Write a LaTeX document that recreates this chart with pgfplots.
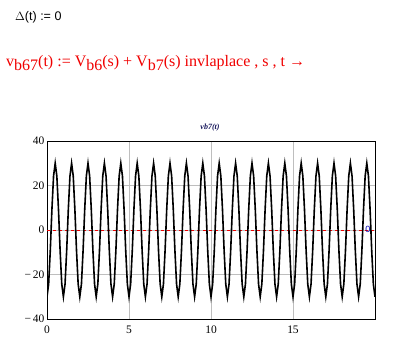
\documentclass[border=0pt]{standalone}
\usepackage{pgfplots}
\pgfplotsset{compat=1.18}
\usepackage{fontspec}
\setmainfont{Liberation Sans}
\newfontfamily\serif{Liberation Serif}
\definecolor{mcred}{RGB}{240,0,0}
\definecolor{gridgray}{RGB}{190,190,190}
\definecolor{navy}{RGB}{20,20,90}
\begin{document}
\begin{tikzpicture}
\path[use as bounding box] (0pt,0pt) rectangle (400pt,-360pt);
\node[anchor=base west,inner sep=0pt,font=\fontsize{12.5}{14}\selectfont] at (15pt,-20.7pt) {$\Delta$(t) := 0};
\node[anchor=base west,inner sep=0pt,text=mcred,font=\serif\fontsize{16}{18}\selectfont] at (6pt,-66.5pt)
 {v\raisebox{-3.5pt}{b67}(t) := V\raisebox{-3.5pt}{b6}(s) + V\raisebox{-3.5pt}{b7}(s) invlaplace , s , t →};
\node[inner sep=0pt,text=navy,font=\serif\fontsize{8}{9}\selectfont\bfseries\itshape] at (210pt,-127.5pt) {vb7(t)};
\begin{axis}[
  at={(47pt,-319pt)}, anchor=south west,
  width=328pt, height=178pt, scale only axis,
  xmin=0, xmax=20, ymin=-40, ymax=40,
  xtick={0,5,10,15}, ytick={-40,-20,0,20,40},
  yticklabels={−\,40,−\,20,0,20,40},
  tick style={draw=none},
  axis line style={black, line width=0.8pt},
  grid=major, grid style={gridgray, line width=0.5pt},
  ticklabel style={font=\serif\fontsize{11.5}{13}\selectfont},
  /pgf/number format/assume math mode=true,
  xticklabel style={yshift=-3pt},
  yticklabel style={xshift=1pt},
  clip=true,
]
\addplot[mcred, dashed, line width=0.8pt, forget plot] coordinates {(0,0)(20,0)};
\addplot[black, line width=1.6pt, line join=miter, mark=none] coordinates {
(0,-30)(0.1,-24.27)(0.2,-9.27)(0.3,9.27)(0.4,24.27)(0.5,30)(0.6,24.27)(0.7,9.27)(0.8,-9.27)(0.9,-24.27)
(1,-30)(1.1,-24.27)(1.2,-9.27)(1.3,9.27)(1.4,24.27)(1.5,30)(1.6,24.27)(1.7,9.27)(1.8,-9.27)(1.9,-24.27)
(2,-30)(2.1,-24.27)(2.2,-9.27)(2.3,9.27)(2.4,24.27)(2.5,30)(2.6,24.27)(2.7,9.27)(2.8,-9.27)(2.9,-24.27)
(3,-30)(3.1,-24.27)(3.2,-9.27)(3.3,9.27)(3.4,24.27)(3.5,30)(3.6,24.27)(3.7,9.27)(3.8,-9.27)(3.9,-24.27)
(4,-30)(4.1,-24.27)(4.2,-9.27)(4.3,9.27)(4.4,24.27)(4.5,30)(4.6,24.27)(4.7,9.27)(4.8,-9.27)(4.9,-24.27)
(5,-30)(5.1,-24.27)(5.2,-9.27)(5.3,9.27)(5.4,24.27)(5.5,30)(5.6,24.27)(5.7,9.27)(5.8,-9.27)(5.9,-24.27)
(6,-30)(6.1,-24.27)(6.2,-9.27)(6.3,9.27)(6.4,24.27)(6.5,30)(6.6,24.27)(6.7,9.27)(6.8,-9.27)(6.9,-24.27)
(7,-30)(7.1,-24.27)(7.2,-9.27)(7.3,9.27)(7.4,24.27)(7.5,30)(7.6,24.27)(7.7,9.27)(7.8,-9.27)(7.9,-24.27)
(8,-30)(8.1,-24.27)(8.2,-9.27)(8.3,9.27)(8.4,24.27)(8.5,30)(8.6,24.27)(8.7,9.27)(8.8,-9.27)(8.9,-24.27)
(9,-30)(9.1,-24.27)(9.2,-9.27)(9.3,9.27)(9.4,24.27)(9.5,30)(9.6,24.27)(9.7,9.27)(9.8,-9.27)(9.9,-24.27)
(10,-30)(10.1,-24.27)(10.2,-9.27)(10.3,9.27)(10.4,24.27)(10.5,30)(10.6,24.27)(10.7,9.27)(10.8,-9.27)(10.9,-24.27)
(11,-30)(11.1,-24.27)(11.2,-9.27)(11.3,9.27)(11.4,24.27)(11.5,30)(11.6,24.27)(11.7,9.27)(11.8,-9.27)(11.9,-24.27)
(12,-30)(12.1,-24.27)(12.2,-9.27)(12.3,9.27)(12.4,24.27)(12.5,30)(12.6,24.27)(12.7,9.27)(12.8,-9.27)(12.9,-24.27)
(13,-30)(13.1,-24.27)(13.2,-9.27)(13.3,9.27)(13.4,24.27)(13.5,30)(13.6,24.27)(13.7,9.27)(13.8,-9.27)(13.9,-24.27)
(14,-30)(14.1,-24.27)(14.2,-9.27)(14.3,9.27)(14.4,24.27)(14.5,30)(14.6,24.27)(14.7,9.27)(14.8,-9.27)(14.9,-24.27)
(15,-30)(15.1,-24.27)(15.2,-9.27)(15.3,9.27)(15.4,24.27)(15.5,30)(15.6,24.27)(15.7,9.27)(15.8,-9.27)(15.9,-24.27)
(16,-30)(16.1,-24.27)(16.2,-9.27)(16.3,9.27)(16.4,24.27)(16.5,30)(16.6,24.27)(16.7,9.27)(16.8,-9.27)(16.9,-24.27)
(17,-30)(17.1,-24.27)(17.2,-9.27)(17.3,9.27)(17.4,24.27)(17.5,30)(17.6,24.27)(17.7,9.27)(17.8,-9.27)(17.9,-24.27)
(18,-30)(18.1,-24.27)(18.2,-9.27)(18.3,9.27)(18.4,24.27)(18.5,30)(18.6,24.27)(18.7,9.27)(18.8,-9.27)(18.9,-24.27)
(19,-30)(19.1,-24.27)(19.2,-9.27)(19.3,9.27)(19.4,24.27)(19.5,30)(19.6,24.27)(19.7,9.27)(19.8,-9.27)(19.9,-24.27)
(20,-30)
};
\end{axis}
\node[inner sep=0pt,text=blue!70!black,font=\fontsize{9}{10}\selectfont] at (368pt,-229.5pt) {0};
\end{tikzpicture}
\end{document}
